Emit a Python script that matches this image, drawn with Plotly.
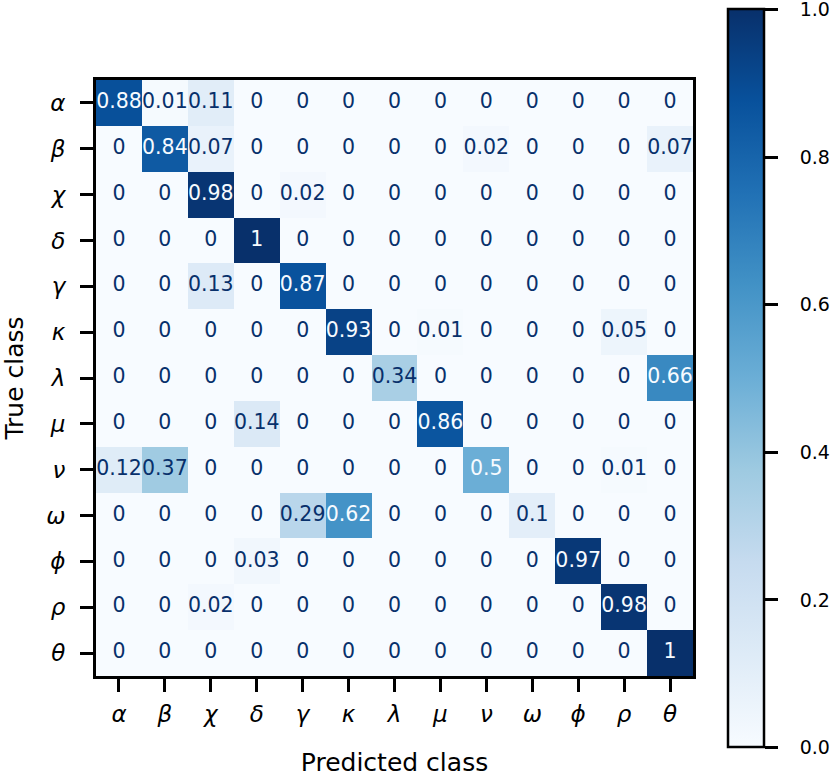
import plotly.graph_objects as go

# confusion matrix (rows = true class, cols = predicted class)
labels = ["α", "β", "χ", "δ", "γ", "κ", "λ", "μ", "ν", "ω", "ϕ", "ρ", "θ"]

row_alpha = [0.88, 0.01, 0.11, 0, 0, 0, 0, 0, 0, 0, 0, 0, 0]
row_beta = [0, 0.84, 0.07, 0, 0, 0, 0, 0, 0.02, 0, 0, 0, 0.07]
row_chi = [0, 0, 0.98, 0, 0.02, 0, 0, 0, 0, 0, 0, 0, 0]
row_delta = [0, 0, 0, 1, 0, 0, 0, 0, 0, 0, 0, 0, 0]
row_gamma = [0, 0, 0.13, 0, 0.87, 0, 0, 0, 0, 0, 0, 0, 0]
row_kappa = [0, 0, 0, 0, 0, 0.93, 0, 0.01, 0, 0, 0, 0.05, 0]
row_lambda = [0, 0, 0, 0, 0, 0, 0.34, 0, 0, 0, 0, 0, 0.66]
row_mu = [0, 0, 0, 0.14, 0, 0, 0, 0.86, 0, 0, 0, 0, 0]
row_nu = [0.12, 0.37, 0, 0, 0, 0, 0, 0, 0.5, 0, 0, 0.01, 0]
row_omega = [0, 0, 0, 0, 0.29, 0.62, 0, 0, 0, 0.1, 0, 0, 0]
row_phi = [0, 0, 0, 0.03, 0, 0, 0, 0, 0, 0, 0.97, 0, 0]
row_rho = [0, 0, 0.02, 0, 0, 0, 0, 0, 0, 0, 0, 0.98, 0]
row_theta = [0, 0, 0, 0, 0, 0, 0, 0, 0, 0, 0, 0, 1]

cm = [row_alpha, row_beta, row_chi, row_delta, row_gamma, row_kappa, row_lambda,
      row_mu, row_nu, row_omega, row_phi, row_rho, row_theta]

cbar_ticks = [0.0, 0.2, 0.4, 0.6, 0.8, 1.0]

# matplotlib "Blues"
blues = ["#f7fbff", "#deebf7", "#c6dbef", "#9ecae1", "#6baed6",
         "#4292c6", "#2171b5", "#08519c", "#08306b"]
scale = [[i / (len(blues) - 1), c] for i, c in enumerate(blues)]

n = len(labels)
idx = list(range(n))
font = "DejaVu Sans"

fig = go.Figure()
fig.add_trace(go.Heatmap(
    z=cm, x=idx, y=idx, zmin=0, zmax=1, colorscale=scale,
    hoverinfo="skip",
    colorbar=dict(
        x=1.0586, xanchor="left", y=0.4992, yanchor="middle",
        xpad=0, ypad=0,
        thickness=36, len=738, lenmode="pixels",
        outlinewidth=2.5, outlinecolor="black",
        tickvals=cbar_ticks,
        # nbsp padding pushes labels away from the ticks like matplotlib
        ticktext=["\u00a0\u00a0\u00a0%.1f" % t for t in cbar_ticks],
        ticklabeloverflow="allow",
        ticks="outside", ticklen=13, tickwidth=2.5, tickcolor="black",
        tickfont=dict(family=font, size=19, color="black"),
    ),
))

# cell labels
tx, ty, tt, tc = [], [], [], []
for i, row in enumerate(cm):
    for j, v in enumerate(row):
        tx.append(j)
        ty.append(i)
        tt.append("{:.2g}".format(v))
        tc.append("#f7fbff" if v >= 0.5 else "#08306b")

fig.add_trace(go.Scatter(
    x=tx, y=ty, text=tt, mode="text", hoverinfo="skip",
    textfont=dict(family=font, size=20.5, color=tc), showlegend=False,
))

ticktext = ["<i>%s</i>" % l for l in labels]
axis_common = dict(
    tickvals=idx, ticktext=ticktext, showgrid=False, zeroline=False,
    showline=True, mirror=True, linewidth=3, linecolor="black",
    ticks="outside", ticklen=13, tickwidth=2.5, tickcolor="black",
    tickfont=dict(family=font, size=23, color="black"),
    range=[-0.5, n - 0.5],
)

fig.update_layout(
    width=830, height=777,
    margin=dict(l=96, r=137, t=80, b=101, autoexpand=False),
    plot_bgcolor="white", paper_bgcolor="white",
    xaxis=dict(axis_common, ticklabelstandoff=2,
               title=dict(text="Predicted class", standoff=29,
                          font=dict(family=font, size=25, color="black"))),
    yaxis=dict(axis_common, range=[n - 0.5, -0.5], ticklabelstandoff=10,
               title=dict(text="True class", standoff=33,
                          font=dict(family=font, size=25, color="black"))),
    showlegend=False,
)

# drop the default 8px body margin so the figure fills the window
fig.write_html("out.html", config={"displayModeBar": False},
               post_script="document.body.style.margin='0';")
